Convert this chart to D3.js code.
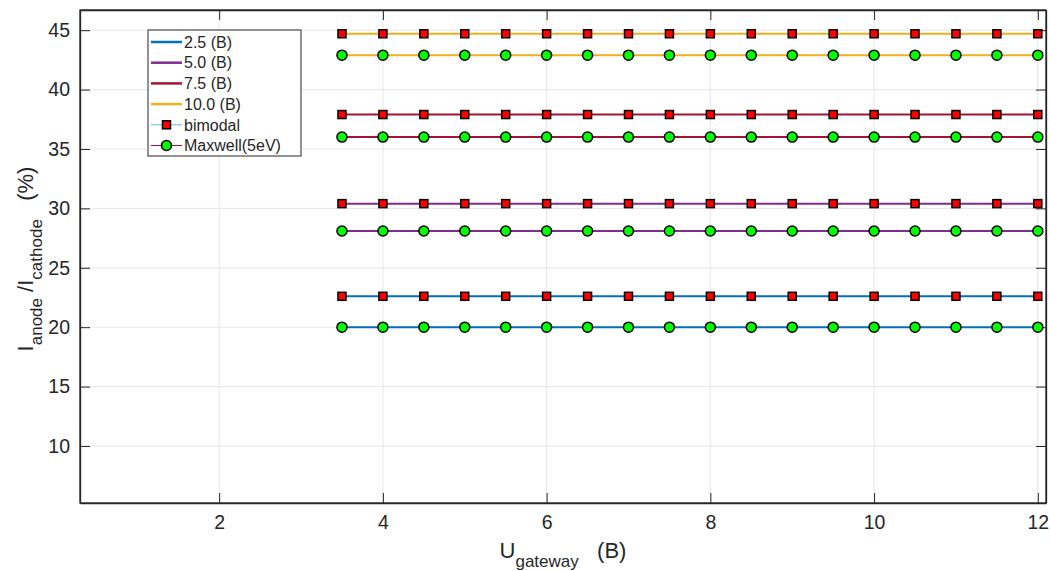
<!DOCTYPE html>
<html>
<head>
<meta charset="utf-8">
<script src="https://cdn.jsdelivr.net/npm/d3@7"></script>
<style>
  body { margin: 0; background: #fff; }
  svg { display: block; font-family: "Liberation Sans", Arial, Helvetica, sans-serif; }
</style>
</head>
<body>
<svg id="chart" width="1050" height="571"></svg>
<script>
// Gateway voltage sweep (B)
const gatewayU = [3.5, 4, 4.5, 5, 5.5, 6, 6.5, 7, 7.5, 8, 8.5, 9, 9.5, 10, 10.5, 11, 11.5, 12];
// Anode voltage groups and their line colours
const anodeLabels = ["2.5 (B)", "5.0 (B)", "7.5 (B)", "10.0 (B)"];
const anodeColors = ["#0072BD", "#7E2F8E", "#A2142F", "#EDB120"];
// Current ratio Ianode/Icathode (%) per anode group, constant over the sweep
const bimodalRatio = [22.6, 30.4, 37.9, 44.7];
const maxwellRatio = [20.0, 28.1, 36.0, 42.9];
// Axis ticks
const xTicks = [2, 4, 6, 8, 10, 12];
const yTicks = [10, 15, 20, 25, 30, 35, 40, 45];

const svg = d3.select("#chart");
const L = 80, R = 1046, T = 10, B = 503;
const x = d3.scaleLinear().domain([0.3, 12.1]).range([L, R]);
const y = d3.scaleLinear().domain([5.2, 46.7]).range([B, T]);
const axisColor = "#262626";

// grid
const grid = svg.append("g");
grid.selectAll("line.gx").data(xTicks).join("line")
  .attr("x1", d => x(d)).attr("x2", d => x(d)).attr("y1", T).attr("y2", B)
  .attr("stroke", "#e6e6e6").attr("stroke-width", 1);
grid.selectAll("line.gy").data(yTicks).join("line")
  .attr("y1", d => y(d)).attr("y2", d => y(d)).attr("x1", L).attr("x2", R)
  .attr("stroke", "#e6e6e6").attr("stroke-width", 1);

// axes (ticks inward, box on all sides)
const tk = 10;
const xb = svg.append("g").attr("transform", `translate(0,${B})`)
  .call(d3.axisBottom(x).tickValues(xTicks).tickSizeInner(-tk).tickSizeOuter(0).tickPadding(12));
const xt = svg.append("g").attr("transform", `translate(0,${T})`)
  .call(d3.axisTop(x).tickValues(xTicks).tickSizeInner(-tk).tickSizeOuter(0).tickFormat(""));
const yl = svg.append("g").attr("transform", `translate(${L},0)`)
  .call(d3.axisLeft(y).tickValues(yTicks).tickSizeInner(-tk).tickSizeOuter(0).tickPadding(10));
const yr = svg.append("g").attr("transform", `translate(${R},0)`)
  .call(d3.axisRight(y).tickValues(yTicks).tickSizeInner(-tk).tickSizeOuter(0).tickFormat(""));
[xb, xt, yl, yr].forEach(g => {
  g.select(".domain").attr("stroke", axisColor).attr("stroke-width", 1.3);
  g.selectAll(".tick line").attr("stroke", axisColor).attr("stroke-width", 1);
  g.selectAll(".tick text").attr("fill", axisColor).attr("font-size", 19.5)
    .attr("font-family", "Liberation Sans, Arial, sans-serif");
});
// complete box corners
svg.append("rect").attr("x", L).attr("y", T).attr("width", R - L).attr("height", B - T)
  .attr("fill", "none").attr("stroke", axisColor).attr("stroke-width", 1.3);

// series
const plot = svg.append("g");
const line = d3.line().x(d => x(d[0])).y(d => y(d[1]));
anodeColors.forEach((c, i) => {
  const bim = gatewayU.map(u => [u, bimodalRatio[i]]);
  const mx = gatewayU.map(u => [u, maxwellRatio[i]]);
  [bim, mx].forEach(pts => {
    plot.append("path").datum(pts).attr("d", line)
      .attr("fill", "none").attr("stroke", c).attr("stroke-width", 2);
  });
  plot.append("g").selectAll("rect").data(bim).join("rect")
    .attr("x", d => x(d[0]) - 4).attr("y", d => y(d[1]) - 4)
    .attr("width", 8).attr("height", 8)
    .attr("fill", "#ff0000").attr("stroke", "#000").attr("stroke-width", 1.5);
  plot.append("g").selectAll("circle").data(mx).join("circle")
    .attr("cx", d => x(d[0])).attr("cy", d => y(d[1])).attr("r", 5)
    .attr("fill", "#00ff00").attr("stroke", "#000").attr("stroke-width", 1.5);
});

// legend
const lg = svg.append("g");
lg.append("rect").attr("x", 148).attr("y", 30).attr("width", 153).attr("height", 126)
  .attr("fill", "#fff").attr("stroke", axisColor).attr("stroke-width", 1);
const rowY = i => 42 + i * 20.7;
const legendItems = anodeLabels.map((t, i) => ({ t, c: anodeColors[i], w: 2.5, m: null }))
  .concat([{ t: "bimodal", c: "#4DBEEE", w: 1, m: "sq" }, { t: "Maxwell(5eV)", c: "#A2142F", w: 1, m: "ci" }]);
legendItems.forEach((it, i) => {
  const yy = rowY(i);
  lg.append("line").attr("x1", 151).attr("x2", 182).attr("y1", yy).attr("y2", yy)
    .attr("stroke", it.c).attr("stroke-width", it.w);
  if (it.m === "sq") {
    lg.append("rect").attr("x", 162.5).attr("y", yy - 4).attr("width", 8).attr("height", 8)
      .attr("fill", "#ff0000").attr("stroke", "#000").attr("stroke-width", 1.5);
  } else if (it.m === "ci") {
    lg.append("circle").attr("cx", 166.5).attr("cy", yy).attr("r", 5)
      .attr("fill", "#00ff00").attr("stroke", "#000").attr("stroke-width", 1.5);
  }
  lg.append("text").attr("x", 184).attr("y", yy).attr("dy", "0.36em")
    .attr("font-size", 16).attr("fill", axisColor).text(it.t);
});

// axis titles
const xt2 = svg.append("text").attr("x", (L + R) / 2).attr("y", 558)
  .attr("text-anchor", "middle").attr("font-size", 22).attr("fill", axisColor);
xt2.append("tspan").text("U");
xt2.append("tspan").attr("dy", 9).attr("font-size", 17).text("gateway");
xt2.append("tspan").attr("dy", -9).text("\u00a0\u00a0\u00a0(B)");

const yt = svg.append("text").attr("transform", `translate(33,${259}) rotate(-90)`)
  .attr("text-anchor", "middle").attr("font-size", 22).attr("fill", axisColor);
yt.append("tspan").text("I");
yt.append("tspan").attr("dy", 9).attr("font-size", 17).text("anode");
yt.append("tspan").attr("dy", -9).text("\u00a0/I");
yt.append("tspan").attr("dy", 9).attr("font-size", 17).text("cathode");
yt.append("tspan").attr("dy", -9).text("\u00a0\u00a0\u00a0(%)");
</script>
</body>
</html>
